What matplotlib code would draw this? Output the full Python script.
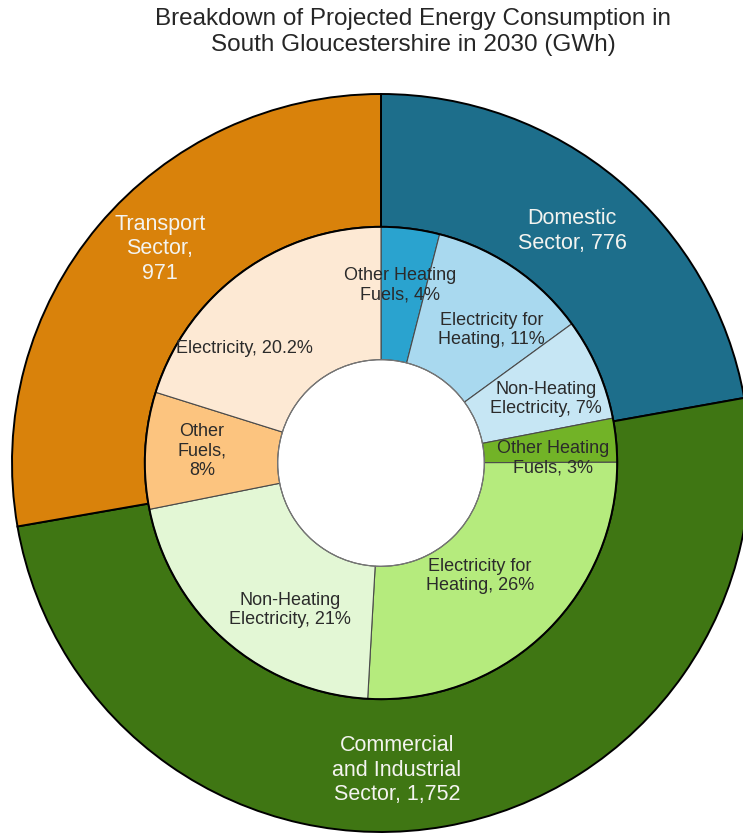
import numpy as np
import matplotlib
matplotlib.use('Agg')
import matplotlib.pyplot as plt
from matplotlib.patches import Circle

plt.rcParams['font.family'] = ['Liberation Sans', 'DejaVu Sans']

# outer ring: sectors (GWh)
sectors = ['Domestic\nSector, 776', 'Commercial\nand Industrial\nSector, 1,752', 'Transport\nSector,\n971']
sector_gwh = [776, 1752, 971]
sector_colors = ['#1d6e8b', '#3f7613', '#d9820b']

# inner ring: share of total (%)
sub_labels = ['Other Heating\nFuels, 4%', 'Electricity for\nHeating, 11%', 'Non-Heating\nElectricity, 7%',
              'Other Heating\nFuels, 3%', 'Electricity for\nHeating, 26%', 'Non-Heating\nElectricity, 21%',
              'Other\nFuels,\n8%', 'Electricity, 20.2%']
sub_pct = [4, 11, 7, 3, 26, 21, 8, 20.2]
sub_colors = ['#2aa3cf', '#a9d9ef', '#c6e6f4',
              '#72b327', '#b5eb7d', '#e3f7d5',
              '#fcc47f', '#fde9d4']

# label positions (data units, radius of outer ring = 1)
sector_pos = [(0.518, 0.629), (0.043, -0.832), (-0.599, 0.580)]
sub_pos = [(0.051, 0.482), (0.299, 0.360), (0.447, 0.173), (0.466, 0.014),
           (0.268, -0.306), (-0.247, -0.398), (-0.485, 0.032), (-0.369, 0.311)]

R_OUT, R_MID, R_HOLE = 1.0, 0.64, 0.28

fig = plt.figure(figsize=(7.43, 8.34), dpi=100)
ax = fig.add_axes([0, 0, 1, 1])

ax.pie(sector_gwh, radius=R_OUT, startangle=90, counterclock=False, colors=sector_colors,
       wedgeprops=dict(width=R_OUT - R_MID, edgecolor='black', linewidth=1.4))
ax.pie(sub_pct, radius=R_MID, startangle=90, counterclock=False, colors=sub_colors,
       wedgeprops=dict(width=R_MID - R_HOLE, edgecolor='#4a4a4a', linewidth=0.8))
ax.add_patch(Circle((0, 0), R_MID, fill=False, edgecolor='black', linewidth=1.4, zorder=5))
ax.add_patch(Circle((0, 0), R_HOLE, fill=False, edgecolor='#777777', linewidth=0.8, zorder=5))

for lab, (x, y) in zip(sectors, sector_pos):
    ax.text(x, y, lab, ha='center', va='center', color='#f4f4f0', fontsize=15.5,
            linespacing=1.22, zorder=6)
for lab, (x, y) in zip(sub_labels, sub_pos):
    ax.text(x, y, lab, ha='center', va='center', color='#2b2b2b', fontsize=13,
            linespacing=1.2, zorder=6)

# pie centre sits at pixel (381, 463) with outer radius 369 px
ax.set_aspect('equal')
ax.set_xlim(-381 / 369, (743 - 381) / 369)
ax.set_ylim(-(834 - 463) / 369, 463 / 369)
ax.axis('off')

fig.text(413 / 743, 1 - 32 / 834, 'Breakdown of Projected Energy Consumption in\nSouth Gloucestershire in 2030 (GWh)',
         ha='center', va='center', fontsize=17.5, color='#262626', linespacing=1.2)

fig.savefig('out.png', dpi=100, facecolor='white')
